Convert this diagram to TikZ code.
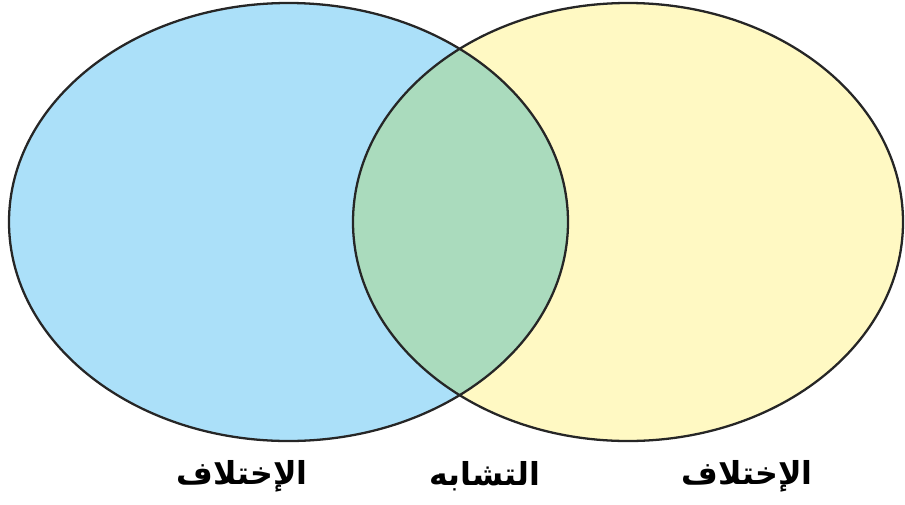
\documentclass[tikz,border=0pt]{standalone}
\usepackage{fontspec}
\newfontfamily\arabicfont[Script=Arabic]{DejaVu Sans}
\TeXXeTstate=1
\usepackage{tikz}
\definecolor{setblue}{HTML}{ABE0F9}
\definecolor{setyellow}{HTML}{FFF9C3}
\definecolor{setgreen}{HTML}{AADBBD}
\tikzset{setlabel/.style={font=\arabicfont\bfseries\fontsize{18}{21}\selectfont,inner sep=0pt}}

\begin{document}
\begin{tikzpicture}[x=0.02cm,y=-0.02cm]
\useasboundingbox (0,0) rectangle (905,504);
\fill[setblue] (288.5,222) ellipse (279.5 and 219);
\fill[setyellow] (628,222) ellipse (275 and 219);
\begin{scope}
\clip (288.5,222) ellipse (279.5 and 219);
\fill[setgreen] (628,222) ellipse (275 and 219);
\end{scope}
\draw[line width=1.3pt,black!85] (288.5,222) ellipse (279.5 and 219);
\draw[line width=1.3pt,black!85] (628,222) ellipse (275 and 219);
\node[setlabel] (diffleft) at (242,476) {\beginR الإختلاف\endR};
\node[setlabel] (same) at (485,476) {\beginR التشابه\endR};
\node[setlabel] (diffright) at (747,476) {\beginR الإختلاف\endR};
\end{tikzpicture}
\end{document}
